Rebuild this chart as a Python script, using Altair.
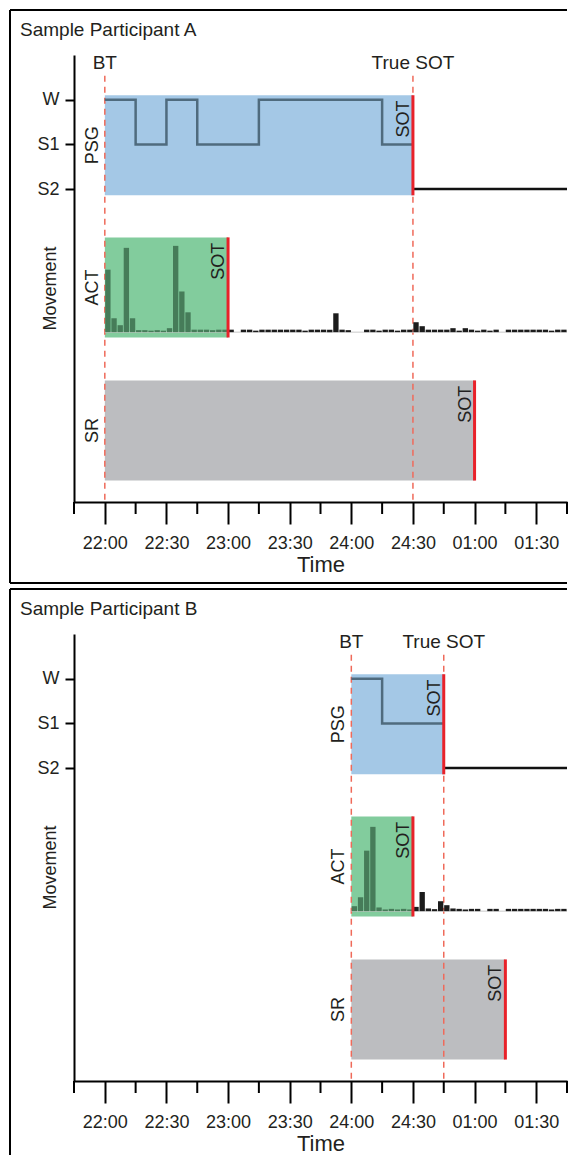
import altair as alt
import pandas as pd

FONT = "Liberation Sans"
INK = "#231f20"

# ---------------- shared axis data ----------------
tick_minutes = [0, 30, 60, 90, 120, 150, 180, 210]          # minutes after 22:00
tick_labels = ["22:00", "22:30", "23:00", "23:30", "24:00", "24:30", "01:00", "01:30"]
minor_minutes = [-15, 15, 45, 75, 105, 135, 165, 195, 225]
x_domain = [-15, 225]

stage_names = ["W", "S1", "S2"]
stage_levels = [9, 8, 7]

row_names = ["PSG", "ACT", "SR"]
row_lo = [6.86, 3.68, 0.48]
row_hi = [9.1, 5.92, 2.72]
row_fill = ["#a4c8e6", "#82cc9d", "#bcbdc0"]

epoch_min = 3
record_end = 225

# ---------------- Participant A ----------------
a_title = "Sample Participant A"
a_bt = 0
a_act_sot = 60
a_true_sot = 150
a_sr_sot = 180
a_psg_times = [0, 15, 30, 45, 75, 135, 150]
a_psg_stages = ["W", "S1", "W", "S1", "W", "S1", "S1"]
a_act = [63, 14, 7, 85, 14, 2, 2, 1.5, 2, 1.5, 4, 87, 41, 20, 2.5, 2.5, 2.5, 2, 2.5, 2.5,
         2.5, 0, 2.5, 2.5, 1.5, 2.5, 2.5, 2.5, 2.5, 2.5, 2.5, 2.5, 1.5, 2.5, 2.5, 2.5, 2.5,
         19, 2.5, 2, 0, 0, 2.5, 2.5, 1.5, 2.5, 2.5, 1.5, 2.5, 2.5,
         10, 6, 2.5, 2.5, 2.5, 2.5, 4, 1.5, 4, 2.5, 1.5, 2.5, 1.5, 2.5, 0,
         2.5, 2.5, 2.5, 2.5, 2.5, 2.5, 2.5, 1.5, 2.5, 2.5]

# ---------------- Participant B ----------------
b_title = "Sample Participant B"
b_bt = 120
b_act_sot = 150
b_true_sot = 165
b_sr_sot = 195
b_psg_times = [120, 135, 165]
b_psg_stages = ["W", "S1", "S1"]
b_act = [5, 14, 61, 85, 3.7, 1.7, 2.3, 1.7, 2.3, 1.7,
         4.3, 19.3, 2.7, 2, 10, 6, 2.7, 2.3, 1.7, 2.3, 2.3, 0, 2.3, 2.3, 0,
         2.3, 2.3, 2.3, 2.3, 2.3, 2.3, 2.3, 1.7, 2.3, 2.3]

ACT_MAX = 87.0
ACT_BASE = 3.8
ACT_SPAN = 1.93
LABEL_GAP = 1.5   # minutes between row label and bedtime line

W, H = 493, 447
xs = alt.Scale(domain=x_domain, nice=False, zero=False)
ys = alt.Scale(domain=[0, 10], nice=False, zero=False)

lvl = dict(zip(stage_names, stage_levels))
label_expr_x = " : ".join(
    f"datum.value == {m} ? '{l}'" for m, l in zip(tick_minutes, tick_labels)) + " : ''"
label_expr_y = " : ".join(
    f"datum.value == {v} ? '{n}'" for v, n in zip(stage_levels, stage_names)) + " : ''"

XAX = alt.Axis(
    values=tick_minutes, labelExpr=label_expr_x, tickSize=22, tickWidth=2,
    tickColor="black", domainColor="black", domainWidth=2, labelFontSize=18,
    labelColor=INK, labelPadding=10, labelFlush=False, title="Time",
    titleFontSize=22, titleFontWeight="normal", titleColor=INK,
    titleY=62, titleBaseline="middle", grid=False, zindex=1)
YAX = alt.Axis(
    values=stage_levels, labelExpr=label_expr_y, tickSize=9, tickWidth=2,
    tickColor="black", domainColor="black", domainWidth=2, labelFontSize=18,
    labelColor=INK, labelPadding=6, grid=False, title="Movement",
    titleAngle=270, titleX=-24, titleY=233, titleAlign="center",
    titleBaseline="middle", titleFontSize=18, titleFontWeight="normal",
    titleColor=INK, zindex=1)


def X(f):
    return alt.X(f, type="quantitative", scale=xs, axis=XAX)


def Y(f):
    return alt.Y(f, type="quantitative", scale=ys, axis=YAX)


def panel(title, bt, act_sot, true_sot, sr_sot, psg_t, psg_s, act, closed_bottom):
    sots = [true_sot, act_sot, sr_sot]
    one = pd.DataFrame({"k": [0]})

    # frame around the panel (top, left and optionally bottom edges)
    frame_top = alt.Chart(one).mark_rule(color="black", strokeWidth=2).encode(
        x=alt.value(-64), x2=alt.value(W), y=alt.value(-45))
    frame_left = alt.Chart(one).mark_rule(color="black", strokeWidth=2).encode(
        x=alt.value(-64), y=alt.value(-45), y2=alt.value(H + (81 if closed_bottom else 74)))
    frames = [frame_top, frame_left]
    if closed_bottom:
        frames.append(alt.Chart(one).mark_rule(color="black", strokeWidth=2).encode(
            x=alt.value(-64), x2=alt.value(W), y=alt.value(H + 81)))

    boxes_df = pd.DataFrame({"row": row_names, "t0": [bt] * 3, "t1": sots,
                             "lo": row_lo, "hi": row_hi, "fill": row_fill})
    boxes = alt.Chart(boxes_df).mark_rect().encode(
        x=X("t0"), x2="t1:Q", y=Y("lo"), y2="hi:Q",
        color=alt.Color("fill:N", scale=None))

    minor = alt.Chart(pd.DataFrame({"t": minor_minutes})).mark_rule(
        color="black", strokeWidth=2
    ).encode(x=X("t"), y=alt.value(H), y2=alt.value(H + 12))

    dash_df = pd.DataFrame({"t": [bt, true_sot], "lo": [0.05, 0.05], "hi": [9.55, 9.55]})
    dashed = alt.Chart(dash_df).mark_rule(
        color="#ef6a5a", strokeWidth=1.5, strokeDash=[6, 5]
    ).encode(x=X("t"), y=Y("lo"), y2="hi:Q")

    base = alt.Chart(pd.DataFrame({"t0": [bt], "t1": [record_end], "y": [ACT_BASE]})).mark_rule(
        color="#c8c8c8", strokeWidth=1
    ).encode(x=X("t0"), x2="t1:Q", y=Y("y"))

    n = len(act)
    starts = [bt + i * epoch_min for i in range(n)]
    act_df = pd.DataFrame({
        "t0": [s + 0.2 for s in starts],
        "t1": [s + epoch_min - 0.2 for s in starts],
        "y0": [ACT_BASE] * n,
        "y1": [ACT_BASE + v / ACT_MAX * ACT_SPAN for v in act],
        "v": act,
        "c": ["#467c59" if s < act_sot else "#1c1c1c" for s in starts],
    })
    act_df = act_df[act_df["v"] > 0]
    bars = alt.Chart(act_df).mark_rect().encode(
        x=X("t0"), x2="t1:Q", y=Y("y0"), y2="y1:Q", color=alt.Color("c:N", scale=None))

    hyp_df = pd.DataFrame({"t": psg_t, "y": [lvl[s] for s in psg_s]})
    hyp = alt.Chart(hyp_df).mark_line(
        interpolate="step-after", color="#4f6b7e", strokeWidth=2.5
    ).encode(x=X("t"), y=Y("y"))

    s2 = alt.Chart(pd.DataFrame({"t0": [true_sot], "t1": [record_end], "y": [lvl["S2"]]})).mark_rule(
        color="#111111", strokeWidth=2.5
    ).encode(x=X("t0"), x2="t1:Q", y=Y("y"))

    sot_df = pd.DataFrame({"t": sots, "lo": row_lo, "hi": row_hi,
                           "ty": [h - 0.12 for h in row_hi], "txt": ["SOT"] * 3})
    sot_lines = alt.Chart(sot_df).mark_rule(color="#e8222a", strokeWidth=3).encode(
        x=X("t"), y=Y("lo"), y2="hi:Q")
    sot_text = alt.Chart(sot_df).mark_text(
        angle=270, align="right", baseline="bottom", fontSize=18, color=INK
    ).encode(x=X("t"), y=Y("ty"), text="txt:N")

    rl_df = pd.DataFrame({"t": [bt - LABEL_GAP] * 3,
                          "y": [(a + b) / 2 for a, b in zip(row_lo, row_hi)],
                          "txt": row_names})
    row_lab = alt.Chart(rl_df).mark_text(
        angle=270, align="center", baseline="bottom", fontSize=18, color=INK
    ).encode(x=X("t"), y=Y("y"), text="txt:N")

    ev_df = pd.DataFrame({"t": [bt, true_sot], "y": [9.82, 9.82], "txt": ["BT", "True SOT"]})
    ev_lab = alt.Chart(ev_df).mark_text(
        align="center", baseline="middle", fontSize=19, color=INK
    ).encode(x=X("t"), y=Y("y"), text="txt:N")

    ttl = alt.Chart(pd.DataFrame({"txt": [title]})).mark_text(
        align="left", baseline="middle", fontSize=19, color=INK
    ).encode(x=alt.value(-54), y=alt.value(-25), text="txt:N")

    return alt.layer(boxes, minor, dashed, base, bars, hyp, s2,
                     sot_lines, sot_text, row_lab, ev_lab, ttl, *frames).properties(
        width=W, height=H)


pa = panel(a_title, a_bt, a_act_sot, a_true_sot, a_sr_sot, a_psg_times, a_psg_stages, a_act, True)
pb = panel(b_title, b_bt, b_act_sot, b_true_sot, b_sr_sot, b_psg_times, b_psg_stages, b_act, False)

chart = alt.vconcat(pa, pb, spacing=4).properties(
    padding={"left": 1, "top": 1, "right": 0, "bottom": 0}
).configure_view(stroke=None).configure_text(font=FONT).configure_axis(
    labelFont=FONT, titleFont=FONT)

chart.save("out.html", embed_options={"renderer": "svg", "actions": False})
